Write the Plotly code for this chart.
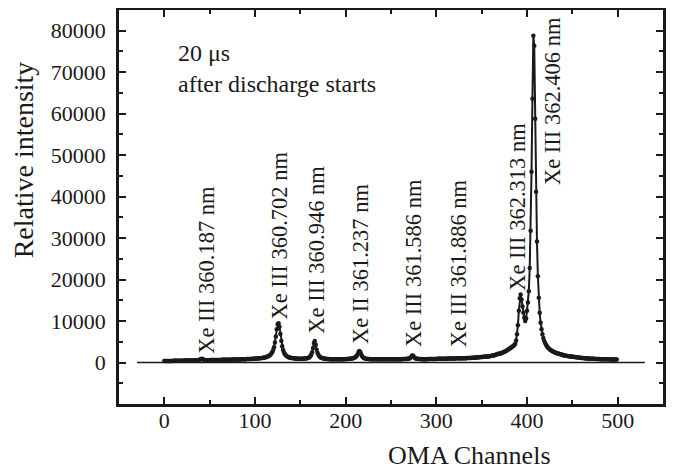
import plotly.graph_objects as go

# ---- data ----
channels = list(range(500))
intensity = [
    350, 355, 360, 365, 370, 375, 380, 385, 390, 395,
    400, 405, 410, 415, 420, 425, 430, 435, 440, 445,
    450, 455, 460, 465, 470, 475, 480, 485, 490, 495,
    500, 505, 510, 515, 520, 530, 540, 560, 600, 680,
    820, 900, 830, 700, 610, 570, 560, 560, 565, 570,
    575, 580, 585, 590, 595, 600, 605, 610, 615, 620,
    625, 630, 635, 640, 645, 650, 655, 660, 665, 670,
    675, 680, 685, 690, 695, 700, 705, 710, 715, 720,
    725, 730, 740, 750, 760, 770, 780, 790, 800, 810,
    820, 830, 840, 850, 860, 870, 880, 895, 910, 925,
    940, 955, 970, 990, 1010, 1030, 1050, 1080, 1110, 1150,
    1190, 1240, 1300, 1370, 1460, 1570, 1710, 1900, 2150, 2500,
    3000, 3700, 4800, 6300, 8000, 9200, 9500, 8600, 6900, 5200,
    3900, 3000, 2400, 2000, 1750, 1550, 1400, 1300, 1220, 1160,
    1110, 1070, 1040, 1010, 990, 970, 955, 940, 930, 920,
    915, 915, 920, 930, 945, 965, 990, 1030, 1090, 1180,
    1300, 1500, 1850, 2500, 3500, 4700, 5200, 4300, 3100, 2300,
    1800, 1500, 1300, 1170, 1080, 1010, 960, 920, 890, 870,
    850, 835, 820, 810, 800, 795, 790, 785, 780, 780,
    780, 780, 780, 785, 785, 790, 795, 800, 810, 820,
    830, 840, 855, 870, 890, 915, 945, 985, 1040, 1110,
    1210, 1350, 1560, 1900, 2400, 2800, 2600, 2050, 1600, 1300,
    1120, 1010, 940, 890, 860, 840, 825, 815, 805, 800,
    795, 790, 785, 780, 780, 775, 775, 770, 770, 770,
    770, 770, 770, 770, 770, 770, 770, 770, 775, 775,
    775, 780, 780, 785, 785, 790, 790, 795, 800, 805,
    810, 815, 820, 830, 840, 850, 865, 880, 900, 930,
    980, 1080, 1300, 1650, 1700, 1450, 1180, 1020, 940, 890,
    860, 840, 830, 825, 820, 815, 815, 815, 815, 820,
    820, 825, 830, 835, 840, 845, 850, 855, 860, 870,
    880, 885, 890, 895, 900, 905, 910, 915, 920, 925,
    930, 935, 940, 945, 950, 955, 960, 965, 970, 975,
    980, 990, 1010, 1060, 1040, 1010, 1000, 1005, 1010, 1020,
    1030, 1040, 1050, 1060, 1070, 1080, 1090, 1100, 1115, 1130,
    1145, 1160, 1175, 1190, 1210, 1230, 1250, 1270, 1290, 1310,
    1330, 1350, 1370, 1390, 1410, 1430, 1450, 1480, 1510, 1540,
    1580, 1620, 1670, 1720, 1780, 1840, 1910, 1990, 2080, 2180,
    2100, 2200, 2300, 2400, 2500, 2600, 2700, 2800, 2950, 3100,
    3250, 3400, 3550, 3700, 3850, 4000, 4200, 4500, 5300, 6800,
    9000, 12500, 15500, 16400, 15200, 13500, 12000, 10800, 10000, 10600,
    12500, 14500, 17200, 22800, 31800, 46000, 63600, 78800, 76400, 58800,
    41200, 29200, 20800, 15600, 12000, 9600, 8000, 6800, 5900, 5200,
    4700, 4300, 3950, 3650, 3400, 3200, 3020, 2870, 2740, 2620,
    2510, 2410, 2320, 2240, 2170, 2100, 2040, 1980, 1920, 1870,
    1750, 1710, 1670, 1630, 1600, 1570, 1540, 1510, 1480, 1450,
    1420, 1390, 1360, 1330, 1300, 1270, 1240, 1210, 1180, 1150,
    1120, 1100, 1080, 1060, 1040, 1020, 1000, 985, 970, 955,
    940, 925, 910, 900, 890, 880, 870, 860, 850, 840,
    830, 820, 810, 800, 795, 790, 785, 780, 775, 770,
    765, 760, 755, 750, 745, 740, 735, 730, 725, 720,
]

zero_line_x = [-30, 530]
zero_line_y = [0, 0]

line_labels = [
    "Xe III 360.187 nm", "Xe III 360.702 nm", "Xe III 360.946 nm",
    "Xe II 361.237 nm", "Xe III 361.586 nm", "Xe III 361.886 nm",
    "Xe III 362.313 nm", "Xe III 362.406 nm",
]
label_channel = [47, 127, 168, 217, 274, 324, 390, 428]
label_base = [1600, 10000, 6400, 4000, 3200, 3200, 16800, 42400]

x_ticks = [0, 100, 200, 300, 400, 500]
y_ticks = [0, 10000, 20000, 30000, 40000, 50000, 60000, 70000, 80000]

FONT = "Liberation Serif, Times New Roman, serif"
INK = "#1a1a1a"

fig = go.Figure()
fig.add_trace(go.Scatter(
    x=zero_line_x, y=zero_line_y, mode="lines",
    line=dict(color=INK, width=1.5), showlegend=False, hoverinfo="skip"))
fig.add_trace(go.Scatter(
    x=channels, y=intensity, mode="lines+markers",
    line=dict(color=INK, width=2),
    marker=dict(color=INK, size=4.5),
    showlegend=False))

for txt, cx, cy in zip(line_labels, label_channel, label_base):
    fig.add_annotation(x=cx, y=cy, text=txt, textangle=-90, showarrow=False,
                       xanchor="center", yanchor="bottom",
                       font=dict(family=FONT, size=22.5, color=INK))

fig.add_annotation(x=13, y=71000, xref="x", yref="y",
                   text="20 μs<br>after discharge starts", showarrow=False,
                   xanchor="left", yanchor="middle", align="left",
                   font=dict(family=FONT, size=24, color=INK))

# axis titles
fig.add_annotation(x=-0.176, y=0.619, xref="paper", yref="paper",
                   text="Relative intensity", textangle=-90, showarrow=False,
                   xanchor="center", yanchor="middle",
                   font=dict(family=FONT, size=28, color=INK))
fig.add_annotation(x=0.645, y=-0.13, xref="paper", yref="paper",
                   text="OMA Channels", showarrow=False,
                   xanchor="center", yanchor="middle",
                   font=dict(family=FONT, size=26, color=INK))

axis_common = dict(
    showline=True, linecolor=INK, linewidth=2.5, mirror="allticks",
    ticks="inside", ticklen=7, tickwidth=2, tickcolor=INK,
    showgrid=False, zeroline=False, automargin=False,
    tickfont=dict(family=FONT, size=22, color=INK),
)

fig.update_xaxes(range=[-50, 550], tickvals=x_ticks, ticklabelstandoff=-5,
                 minor=dict(dtick=50, tick0=0, ticks="inside", ticklen=4,
                            tickwidth=2, tickcolor=INK, showgrid=False),
                 **axis_common)
fig.update_yaxes(range=[-10000, 85000], tickvals=y_ticks, tickformat="d",
                 ticklabelstandoff=6,
                 minor=dict(dtick=5000, tick0=0, ticks="inside", ticklen=4,
                            tickwidth=2, tickcolor=INK, showgrid=False),
                 **axis_common)

# the page adds an 8 px body margin, so the plot box is shifted up/left by 8 px
fig.update_layout(
    width=675, height=471,
    margin=dict(l=111, r=20, t=2, b=75),
    plot_bgcolor="white", paper_bgcolor="white",
    font=dict(family=FONT, color=INK),
)

fig.write_html("out.html")
